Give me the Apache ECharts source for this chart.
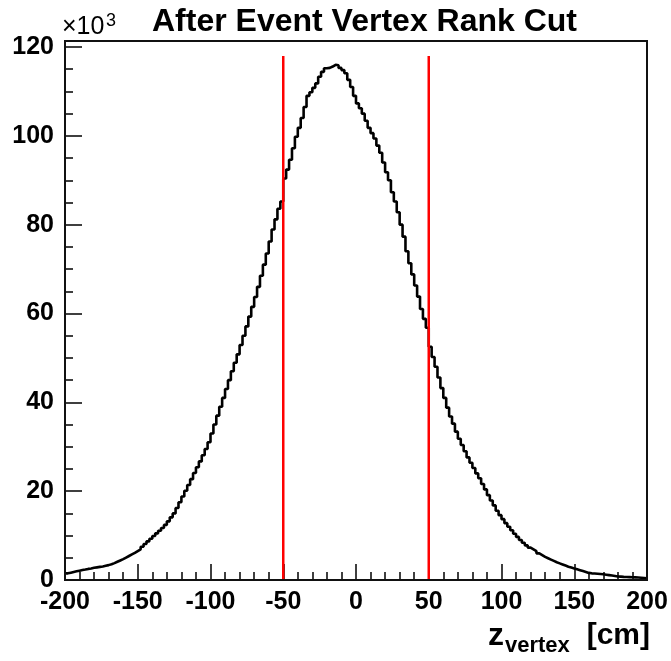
<!DOCTYPE html>
<html><head><meta charset="utf-8">
<script src="https://cdn.jsdelivr.net/npm/echarts@6/dist/echarts.min.js"></script>
<style>html,body{margin:0;padding:0;background:#fff}#c{width:671px;height:661px}</style>
</head><body><div id="c"></div>
<script>
// Histogram: z_vertex, 200 bins of 2 cm from -200 to 200, counts in units of 10^3
const xMin = -200, xMax = 200, binWidth = 2;
const counts = [
  1.5, 1.65, 1.8, 1.95, 2.1, 2.25, 2.35, 2.5, 2.6, 2.75,
  2.85, 2.95, 3.05, 3.2, 3.35, 3.55, 3.8, 4.1, 4.4, 4.7,
  5.05, 5.4, 5.75, 6.1, 6.5, 6.9, 7.5, 8.1, 8.7, 9.3,
  9.9, 10.5, 11.1, 11.7, 12.4, 13.2, 14.1, 15.0, 16.2, 17.5,
  18.8, 20.1, 21.4, 22.7, 24.1, 25.4, 26.7, 28.1, 29.5, 31.0,
  33.0, 35.0, 37.0, 39.0, 41.0, 43.0, 45.0, 47.0, 48.9, 50.8,
  52.9, 55.0, 57.1, 59.3, 61.5, 63.7, 66.0, 68.5, 71.0, 73.5,
  76.2, 78.9, 81.2, 83.6, 85.2, 90.4, 92.4, 94.6, 97.2, 99.8,
  101.8, 104.0, 106.5, 109.0, 109.8, 110.8, 111.8, 113.3, 114.4, 115.2,
  115.3, 115.6, 116.0, 115.9, 115.3, 114.8, 114.1, 112.6, 111.0, 109.0,
  107.3, 106.2, 105.0, 103.4, 101.8, 100.6, 99.4, 97.8, 96.2, 94.0,
  91.8, 90.0, 87.3, 85.2, 82.8, 80.0, 77.3, 74.0, 71.3, 68.8,
  66.3, 63.8, 61.0, 58.8, 56.8, 52.5, 50.2, 48.0, 45.6, 43.2,
  41.0, 38.8, 36.8, 35.2, 33.4, 31.8, 30.4, 29.0, 27.6, 26.4,
  25.2, 24.0, 22.9, 21.6, 20.4, 19.1, 17.9, 16.8, 15.6, 14.6,
  13.7, 12.8, 12.0, 11.2, 10.4, 9.7, 9.0, 8.4, 7.8, 7.3,
  6.9, 6.5, 6.0, 5.6, 5.2, 4.9, 4.6, 4.3, 4.0, 3.75,
  3.5, 3.25, 3.0, 2.8, 2.6, 2.4, 2.2, 2.0, 1.8, 1.6,
  1.5, 1.45, 1.4, 1.35, 1.3, 1.2, 1.1, 1.0, 0.9, 0.8,
  0.75, 0.7, 0.68, 0.65, 0.62, 0.6, 0.55, 0.5, 0.45, 0.4
];
const cutPositions = [-50, 50];
const cutHeight = 118;
const xTickLabels = [-200, -150, -100, -50, 0, 50, 100, 150, 200];
const yTickLabels = [0, 20, 40, 60, 80, 100, 120];
const titleText = 'After Event Vertex Rank Cut';

// bin edges -> step points
const histPoints = counts.map((v, i) => [xMin + i * binWidth, v]);
histPoints.push([xMax, counts[counts.length - 1]]);

const FONT = '"Liberation Sans", Arial, Helvetica, sans-serif';
const chart = echarts.init(document.getElementById('c'), null, {renderer: 'canvas'});

const axisCommon = {
  axisLine: {show: true, onZero: false, lineStyle: {color: '#000', width: 2}},
  axisTick: {show: true, inside: true, length: 16, lineStyle: {color: '#000', width: 1.5}},
  minorTick: {show: true, length: 8, lineStyle: {color: '#000', width: 1.5}},
  splitLine: {show: false},
  axisLabel: {color: '#000', fontSize: 25, fontWeight: 'bold', fontFamily: FONT, margin: 9}
};

chart.setOption({
  animation: false,
  backgroundColor: '#fff',
  grid: {left: 65, right: 24, top: 47, bottom: 81, show: false},
  xAxis: Object.assign({}, axisCommon, {
    type: 'value', min: xTickLabels[0], max: xTickLabels[xTickLabels.length - 1],
    interval: xTickLabels[1] - xTickLabels[0],
    minorTick: Object.assign({}, axisCommon.minorTick, {splitNumber: 5}),
    axisLabel: Object.assign({}, axisCommon.axisLabel, {margin: 10, showMinLabel: true, showMaxLabel: true})
  }),
  yAxis: Object.assign({}, axisCommon, {
    type: 'value', min: yTickLabels[0], max: yTickLabels[yTickLabels.length - 1],
    interval: yTickLabels[1] - yTickLabels[0],
    axisTick: Object.assign({}, axisCommon.axisTick, {length: 17}),
    minorTick: Object.assign({}, axisCommon.minorTick, {splitNumber: 4}),
    axisLabel: Object.assign({}, axisCommon.axisLabel, {margin: 11})
  }),
  series: [
    {
      type: 'line', data: histPoints, step: 'end', showSymbol: false, symbol: 'none',
      lineStyle: {color: '#000', width: 2.6}, z: 3
    }
  ].concat(cutPositions.map(c => ({
    type: 'line', data: [[c, 0], [c, cutHeight]], showSymbol: false, symbol: 'none',
    lineStyle: {color: '#ff0000', width: 2.5}, z: 4
  }))),
  graphic: [
    {type: 'rect', shape: {x: 65, y: 41, width: 582, height: 539},
     style: {fill: 'none', stroke: '#111', lineWidth: 2}, z: 10, silent: true},
    {type: 'text', x: 152, y: 22.5,
     style: {text: titleText, fontSize: 32, fontWeight: 'bold', fontFamily: FONT, fill: '#000', align: 'left', verticalAlign: 'middle'}},
    {type: 'text', x: 62, y: 27,
     style: {text: '×10', fontSize: 25, fontFamily: FONT, fill: '#000', align: 'left', verticalAlign: 'middle'}},
    {type: 'text', x: 106, y: 21.5,
     style: {text: '3', fontSize: 18, fontFamily: FONT, fill: '#000', align: 'left', verticalAlign: 'middle'}},
    {type: 'text', x: 488, y: 636,
     style: {text: 'z', fontSize: 32, fontWeight: 'bold', fontFamily: FONT, fill: '#000', align: 'left', verticalAlign: 'middle'}},
    {type: 'text', x: 505, y: 645.5,
     style: {text: 'vertex', fontSize: 22, fontWeight: 'bold', fontFamily: FONT, fill: '#000', align: 'left', verticalAlign: 'middle'}},
    {type: 'text', x: 650, y: 636,
     style: {text: '[cm]', fontSize: 30, fontWeight: 'bold', fontFamily: FONT, fill: '#000', align: 'right', verticalAlign: 'middle'}}
  ]
});
</script>
</body></html>
